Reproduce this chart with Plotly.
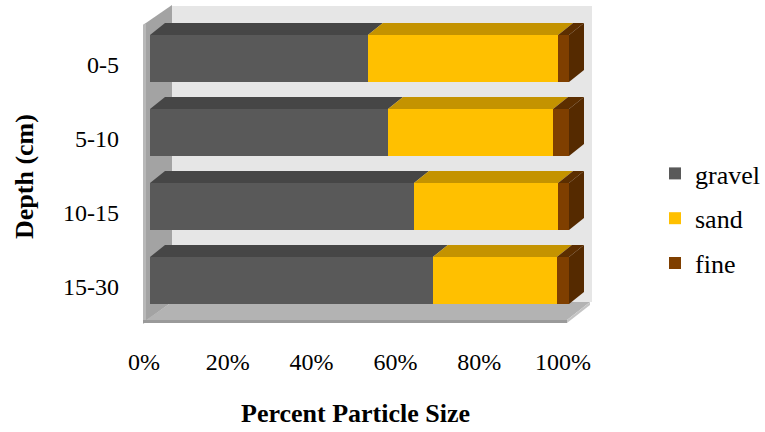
import plotly.graph_objects as go

# Particle size distribution by depth (percent of total)
depths = ["0-5", "5-10", "10-15", "15-30"]
gravel = [52.0, 56.8, 63.0, 67.5]
sand = [45.4, 39.4, 34.4, 29.6]
fine = [2.6, 3.8, 2.6, 2.9]
x_ticks = [0, 20, 40, 60, 80, 100]
x_tick_text = ["0%", "20%", "40%", "60%", "80%", "100%"]

series = [
    ("gravel", gravel, "#595959", "#464646", "#464646"),
    ("sand", sand, "#ffc000", "#c49300", "#c49300"),
    ("fine", fine, "#7f3f00", "#5c2e00", "#552a00"),
]

FONT = "Liberation Serif"
W, H = 765, 432
ML, MR, MT, MB = 142, 168, 5, 108

# pixel <-> data helpers for the pseudo-3D frame
X0_PX, PX_PER_PCT = 150.0, 4.19
Y0_PX, PX_PER_CAT = 58.5, 74.0


def dx(px):
    return (px - X0_PX) / PX_PER_PCT


def dy(py):
    return (py - Y0_PX) / PX_PER_CAT


BAR_W = 47.0 / PX_PER_CAT
DEPTH_X = 15.0 / PX_PER_PCT
DEPTH_Y = -12.0 / PX_PER_CAT

ypos = list(range(len(depths)))

fig = go.Figure()
base = [0.0] * len(depths)
shapes = []


def poly(pts, color, layer="above"):
    path = "M " + " L ".join(f"{x},{y}" for x, y in pts) + " Z"
    return dict(type="path", path=path, xref="x", yref="y",
                fillcolor=color, line=dict(width=0), layer=layer)


# chart frame: back wall, left wall, floor
shapes.append(poly([(dx(172), dy(6)), (dx(592), dy(6)), (dx(592), dy(302)),
                    (dx(172), dy(302))], "#e6e6e6", "below"))
shapes.append(poly([(dx(143), dy(25)), (dx(172), dy(5)), (dx(172), dy(302)),
                    (dx(143), dy(323))], "#a3a3a3", "below"))
shapes.append(poly([(dx(143), dy(25)), (dx(146), dy(23)), (dx(146), dy(322)),
                    (dx(143), dy(324))], "#b8b8b8", "below"))
shapes.append(poly([(dx(143), dy(320)), (dx(146), dy(320)), (dx(172), dy(302)),
                    (dx(590), dy(302)), (dx(567), dy(320)), (dx(567), dy(323)),
                    (dx(143), dy(323))], "#b3b3b3", "below"))
shapes.append(poly([(dx(143), dy(320)), (dx(567), dy(320)), (dx(567), dy(323)),
                    (dx(143), dy(323))], "#9a9a9a", "below"))
shapes.append(poly([(dx(567), dy(320)), (dx(590), dy(302)), (dx(590), dy(305)),
                    (dx(567), dy(323))], "#c4c4c4", "below"))

for name, vals, front, top, side in series:
    fig.add_trace(go.Bar(
        name=name, y=ypos, x=vals, base=base[:], orientation="h",
        width=BAR_W, marker=dict(color=front, line=dict(width=0)),
        showlegend=True, legendgroup=name,
    ))
    for i, v in enumerate(vals):
        a, b = base[i], base[i] + v
        yt = i - BAR_W / 2
        yb = i + BAR_W / 2
        shapes.append(poly([(a, yt), (b, yt), (b + DEPTH_X, yt + DEPTH_Y),
                            (a + DEPTH_X, yt + DEPTH_Y)], top))
        if name == "fine":
            shapes.append(poly([(b, yt), (b + DEPTH_X, yt + DEPTH_Y),
                                (b + DEPTH_X, yb + DEPTH_Y), (b, yb)], side))
    base = [base[i] + vals[i] for i in range(len(vals))]

fig.update_layout(
    width=W, height=H,
    margin=dict(l=ML, r=MR, t=MT, b=MB, pad=0, autoexpand=False),
    paper_bgcolor="white", plot_bgcolor="white",
    barmode="overlay", bargap=0,
    shapes=shapes,
    font=dict(family=FONT, color="black", size=24),
    showlegend=True,
    legend=dict(
        x=(655 - ML) / (W - ML - MR), y=(H - MB - 150) / (H - MT - MB),
        xanchor="left", yanchor="top", traceorder="grouped",
        font=dict(family=FONT, size=26, color="black"),
        tracegroupgap=8, itemwidth=30, bgcolor="rgba(0,0,0,0)",
    ),
    xaxis=dict(
        range=[dx(ML), dx(W - MR)], showgrid=False, zeroline=False,
        showline=False, ticks="",
        tickvals=[t + dx(144) for t in x_ticks], ticktext=x_tick_text,
        tickfont=dict(family=FONT, size=24, color="black"), ticklabelstandoff=21,
    ),
    yaxis=dict(
        range=[dy(H - MB), dy(MT)], showgrid=False, zeroline=False,
        showline=False, ticks="",
        tickvals=[i + 6.5 / PX_PER_CAT for i in ypos], ticktext=depths,
        tickfont=dict(family=FONT, size=24, color="black"), ticklabelstandoff=22,
    ),
    annotations=[
        dict(text="<b>Percent Particle Size</b>", x=(355 - ML) / (W - ML - MR),
             y=(H - MB - 413) / (H - MT - MB), xref="paper", yref="paper",
             showarrow=False, font=dict(family=FONT, size=26, color="black"),
             xanchor="center", yanchor="middle"),
        dict(text="<b>Depth (cm)</b>", x=(25 - ML) / (W - ML - MR),
             y=(H - MB - 177) / (H - MT - MB), xref="paper", yref="paper",
             showarrow=False, textangle=-90,
             font=dict(family=FONT, size=26, color="black"),
             xanchor="center", yanchor="middle"),
    ],
)

fig.write_html("out.html")
